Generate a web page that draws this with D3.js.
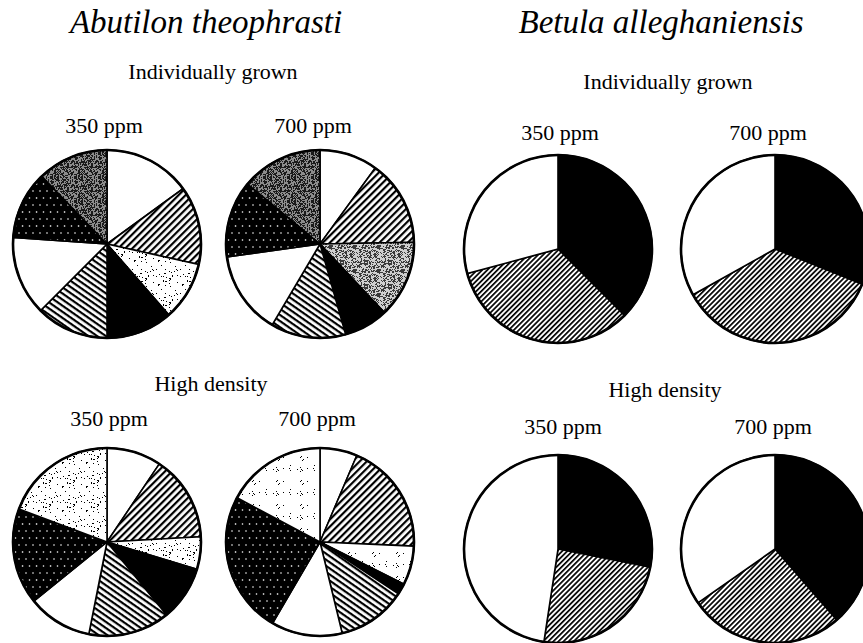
<!DOCTYPE html>
<html>
<head>
<meta charset="utf-8">
<script src="https://cdn.jsdelivr.net/npm/d3@7"></script>
<style>
  html, body { margin: 0; padding: 0; background: #fff; }
  svg { display: block; }
  text { font-family: "Liberation Serif", "Times New Roman", serif; fill: #000; }
</style>
</head>
<body>
<svg id="chart" width="863" height="643"></svg>
<script>
// ---------------- DATA (percent of total) ----------------
const species = ["Abutilon theophrasti", "Betula alleghaniensis"];
const treatments = ["Individually grown", "High density"];
const co2Levels = ["350 ppm", "700 ppm"];

// Abutilon: 8 components, clockwise from 12 o'clock
const abutilonComponents = ["comp1", "comp2", "comp3", "comp4", "comp5", "comp6", "comp7", "comp8"];
const abutilonInd350 = [15.0, 13.5, 10.1, 11.4, 12.5, 13.6, 11.7, 12.2];
const abutilonInd700 = [10.0, 14.7, 13.3, 7.6, 12.9, 14.3, 13.2, 14.0];
const abutilonHD350  = [9.4, 14.7, 5.6, 9.4, 14.0, 11.1, 16.5, 19.3];
const abutilonHD700  = [6.4, 19.3, 6.7, 1.9, 11.9, 12.2, 24.4, 17.2];

// Betula: 3 components, clockwise from 12 o'clock
const betulaComponents = ["comp1", "comp2", "comp3"];
const betulaInd350 = [37.5, 33.3, 29.2];
const betulaInd700 = [31.1, 35.8, 33.1];
const betulaHD350  = [28.1, 24.3, 47.6];
const betulaHD700  = [38.6, 26.7, 34.7];

// ---------------- RENDER ----------------
const svg = d3.select("#chart");
const defs = svg.append("defs");

// deterministic pixel texture generator (style only)
function pixelPattern(id, size, bg, fg, density, seed) {
  const p = defs.append("pattern").attr("id", id)
    .attr("patternUnits", "userSpaceOnUse").attr("width", size).attr("height", size);
  p.append("rect").attr("width", size).attr("height", size).attr("fill", bg);
  let s = seed;
  const next = () => { s = (s * 1103515245 + 12345) & 0x7fffffff; return s / 0x7fffffff; };
  for (let i = 0; i < size; i++) for (let j = 0; j < size; j++) {
    if (next() < density) p.append("rect").attr("x", i).attr("y", j)
      .attr("width", 1).attr("height", 1).attr("fill", fg).attr("shape-rendering", "crispEdges");
  }
}
function hatch(id, spacing, width, angle) {
  const p = defs.append("pattern").attr("id", id)
    .attr("patternUnits", "userSpaceOnUse").attr("width", spacing).attr("height", spacing)
    .attr("patternTransform", `rotate(${angle})`);
  p.append("rect").attr("width", spacing).attr("height", spacing).attr("fill", "#fff");
  p.append("rect").attr("x", 0).attr("y", 0).attr("width", spacing).attr("height", width).attr("fill", "#000");
}
hatch("hatchUp", 5, 2.2, -45);       // "/" lines
hatch("hatchDown", 5, 2.2, 35);      // "\" lines, shallower
hatch("hatchFine", 3.6, 1.7, -45);   // Betula hatch
pixelPattern("stippleDark", 24, "#8c8c8c", "#1a1a1a", 0.5, 7);
pixelPattern("stippleMed", 24, "#cfcfcf", "#3a3a3a", 0.42, 11);
pixelPattern("speckle", 24, "#ffffff", "#000000", 0.06, 3);
pixelPattern("speckleSparse", 24, "#ffffff", "#000000", 0.025, 5);
// black with white dots
(function () {
  const p = defs.append("pattern").attr("id", "dots")
    .attr("patternUnits", "userSpaceOnUse").attr("width", 14).attr("height", 14);
  p.append("rect").attr("width", 14).attr("height", 14).attr("fill", "#000");
  [[3, 3], [10, 3], [6.5, 10], [13.5, 10], [-0.5, 10]].forEach(([x, y]) =>
    p.append("circle").attr("cx", x).attr("cy", y).attr("r", 0.8).attr("fill", "#fff"));
})();

const abutilonFillsByPie = {
  ind350: ["#fff", "url(#hatchUp)", "url(#speckle)", "#000", "url(#hatchDown)", "#fff", "url(#dots)", "url(#stippleDark)"],
  ind700: ["#fff", "url(#hatchUp)", "url(#stippleMed)", "#000", "url(#hatchDown)", "#fff", "url(#dots)", "url(#stippleDark)"],
  hd350:  ["#fff", "url(#hatchUp)", "url(#speckle)", "#000", "url(#hatchDown)", "#fff", "url(#dots)", "url(#speckle)"],
  hd700:  ["#fff", "url(#hatchUp)", "url(#speckleSparse)", "#000", "url(#hatchDown)", "#fff", "url(#dots)", "url(#speckleSparse)"]
};
const betulaFills = ["#000", "url(#hatchFine)", "#fff"];

// layout scales
const colX = d3.scaleOrdinal()
  .domain(["A-350 ppm", "A-700 ppm", "B-350 ppm", "B-700 ppm"])
  .range([107, 320, 558, 775]);
const rowY = d3.scaleOrdinal()
  .domain(["A-Individually grown", "A-High density", "B-Individually grown", "B-High density"])
  .range([244, 542, 249, 549]);
const R = 94;

const pie = d3.pie().sort(null).value(d => d).startAngle(0).endAngle(2 * Math.PI);
const arc = d3.arc().innerRadius(0).outerRadius(R);

function drawPie(cx, cy, values, fills) {
  const g = svg.append("g").attr("transform", `translate(${cx},${cy})`);
  g.selectAll("path").data(pie(values)).join("path")
    .attr("d", arc)
    .attr("fill", (d, i) => fills[i])
    .attr("stroke", "#000").attr("stroke-width", 1.6).attr("stroke-linejoin", "round");
  g.append("circle").attr("r", R).attr("fill", "none").attr("stroke", "#000").attr("stroke-width", 2.6);
}

const pies = [
  { sp: "A", tr: treatments[0], co2: co2Levels[0], values: abutilonInd350, fills: abutilonFillsByPie.ind350 },
  { sp: "A", tr: treatments[0], co2: co2Levels[1], values: abutilonInd700, fills: abutilonFillsByPie.ind700 },
  { sp: "A", tr: treatments[1], co2: co2Levels[0], values: abutilonHD350, fills: abutilonFillsByPie.hd350 },
  { sp: "A", tr: treatments[1], co2: co2Levels[1], values: abutilonHD700, fills: abutilonFillsByPie.hd700 },
  { sp: "B", tr: treatments[0], co2: co2Levels[0], values: betulaInd350, fills: betulaFills },
  { sp: "B", tr: treatments[0], co2: co2Levels[1], values: betulaInd700, fills: betulaFills },
  { sp: "B", tr: treatments[1], co2: co2Levels[0], values: betulaHD350, fills: betulaFills },
  { sp: "B", tr: treatments[1], co2: co2Levels[1], values: betulaHD700, fills: betulaFills }
];
pies.forEach(p => drawPie(colX(p.sp + "-" + p.co2), rowY(p.sp + "-" + p.tr), p.values, p.fills));

// ---------------- TEXT ----------------
const titles = [
  { t: species[0], x: 206, y: 33 },
  { t: species[1], x: 661, y: 33 }
];
svg.selectAll("text.title").data(titles).join("text").attr("class", "title")
  .attr("x", d => d.x).attr("y", d => d.y).attr("text-anchor", "middle")
  .style("font-size", "33px").style("font-style", "italic").text(d => d.t);

const subLabels = [
  { t: treatments[0], x: 213, y: 79 },
  { t: treatments[0], x: 668, y: 89 },
  { t: treatments[1], x: 211, y: 391 },
  { t: treatments[1], x: 665, y: 397 },
  { t: co2Levels[0], x: 104, y: 133 },
  { t: co2Levels[1], x: 313, y: 133 },
  { t: co2Levels[0], x: 560, y: 140 },
  { t: co2Levels[1], x: 768, y: 140 },
  { t: co2Levels[0], x: 109, y: 426 },
  { t: co2Levels[1], x: 317, y: 426 },
  { t: co2Levels[0], x: 563, y: 434 },
  { t: co2Levels[1], x: 773, y: 434 }
];
svg.selectAll("text.sub").data(subLabels).join("text").attr("class", "sub")
  .attr("x", d => d.x).attr("y", d => d.y).attr("text-anchor", "middle")
  .style("font-size", "22px").text(d => d.t);
</script>
</body>
</html>
